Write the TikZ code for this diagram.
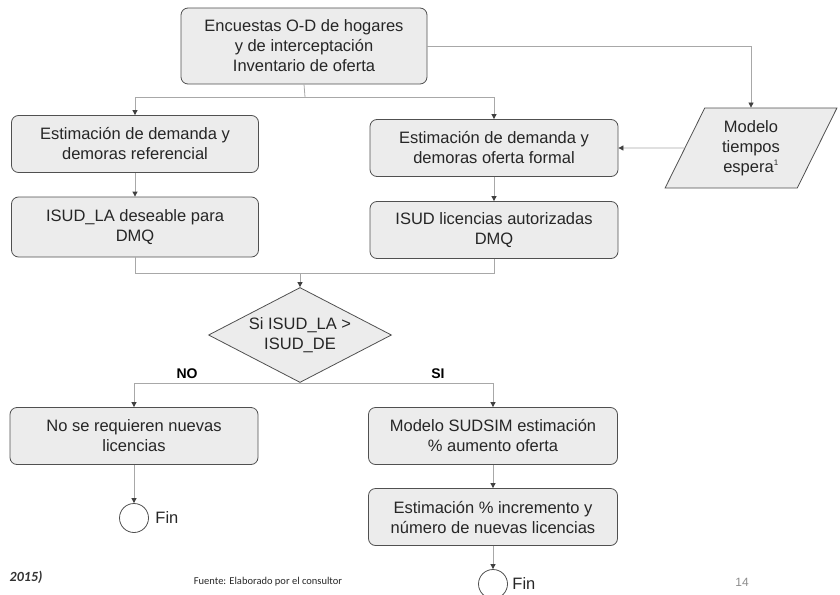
\documentclass[tikz,border=0pt]{standalone}
\usepackage{fontspec}
\setmainfont{Liberation Sans}
\newfontfamily\calibrifont{Carlito}
\usepackage{xcolor}
\usepackage{tikz}
\usetikzlibrary{positioning,arrows.meta,shapes.geometric,calc}

\definecolor{boxfill}{HTML}{ECECEC}
\definecolor{boxline}{HTML}{505050}
\definecolor{connline}{HTML}{A8A8A8}

\begin{document}
\begin{tikzpicture}[x=1pt, y=-1pt,
    proc/.style={draw=boxline, rounded corners=7pt, fill=boxfill, thick,
                 minimum width=247pt, minimum height=57pt, align=center,
                 font=\fontsize{16.5}{20}\selectfont, text=black!85},
    datain/.style={draw=boxline, fill=boxfill, thick, trapezium,
                   trapezium left angle=66, trapezium right angle=114,
                   trapezium stretches=true, minimum width=172pt, minimum height=80pt,
                   align=center, font=\fontsize{16.5}{20}\selectfont, text=black!85},
    decision/.style={draw=boxline, fill=boxfill, thick, diamond, aspect=1.9,
                     minimum width=183pt, minimum height=95pt, inner sep=0pt,
                     align=center, font=\fontsize{16.5}{20}\selectfont, text=black!85},
    term/.style={draw=boxline, thick, circle, fill=white, minimum size=29pt, inner sep=0pt},
    conn/.style={connline, thick},
    arr/.style={connline, thick, -{Triangle[width=5pt,length=5pt,color=black!75]}},
    lbl/.style={font=\fontsize{14}{16}\selectfont\bfseries, text=black}]
  \useasboundingbox (0,0) rectangle (840,594);
  % upper part
  \node[proc, minimum width=246pt, minimum height=76pt] (enc) at (304,46)
       {Encuestas O-D de hogares\\y de interceptaci\'on\\Inventario de oferta};
  \node[proc] (est1) at (135,144) {Estimaci\'on de demanda y\\demoras referencial};
  \node[proc, minimum height=60pt] (isud1) at (135,227) {ISUD\_LA deseable para\\DMQ};
  \node[proc, minimum width=248pt] (est2) at (494,148) {Estimaci\'on de demanda y\\demoras oferta formal};
  \node[proc, minimum width=248pt] (isud2) at (494,230) {ISUD licencias autorizadas\\DMQ};
  \node[datain] (mod) at (751,148) {Modelo\\tiempos\\espera\textsuperscript{\fontsize{8}{8}\selectfont 1}};
  % decision
  \node[decision] (dec) at (300,335) {Si ISUD\_LA >\\ISUD\_DE};
  % lower part
  \node[proc, minimum width=248pt] (nolic) at (134,436) {No se requieren nuevas\\licencias};
  \node[proc, minimum width=249pt] (sud) at (493,436) {Modelo SUDSIM estimaci\'on\\\% aumento oferta};
  \node[proc, minimum width=249pt] (inc) at (493,517) {Estimaci\'on \% incremento y\\n\'umero de nuevas licencias};
  \node[term] (fin1) at (134,518) {};
  \node[term] (fin2) at (493,584) {};
  \node[font=\fontsize{16.5}{20}\selectfont, text=black!85, right=3pt of fin1] (fint1) {Fin};
  \node[font=\fontsize{16.5}{20}\selectfont, text=black!85, right=1pt of fin2] (fint2) {Fin};
  % connectors
  \coordinate (split) at (305,97);
  \coordinate (join) at (300,273);
  \draw[conn] (enc.south) -- (split);
  \draw[arr] (split) -| (est1.north);
  \draw[arr] (split) -| (est2.north);
  \draw[arr] (enc.east) -| (mod.north);
  \draw[arr] (mod.west) -- (est2.east);
  \draw[arr] (est1) -- (isud1);
  \draw[arr] (est2) -- (isud2);
  \draw[conn] (isud1.south) |- (join);
  \draw[conn] (isud2.south) |- (join);
  \draw[arr] (join) -- (dec.north);
  \draw[arr] (dec.south) -| (nolic.north);
  \draw[arr] (dec.south) -| (sud.north);
  \draw[arr] (nolic) -- (fin1);
  \draw[arr] (sud) -- (inc);
  \draw[arr] (inc) -- (fin2);
  % branch labels
  \node[lbl] (no) at (187,374) {NO};
  \node[lbl] (si) at (438,374) {SI};
  % page texts
  \node[font=\calibrifont\fontsize{14}{16}\selectfont\bfseries\itshape, text=black!80, anchor=east] (yr) at (46,577) {2015)};
  \node[font=\calibrifont\fontsize{10.5}{12}\selectfont, text=black!85] (src) at (268,582) {Fuente: Elaborado por el consultor};
  \node[font=\fontsize{12}{14}\selectfont, text=black!45] (pg) at (742,582) {14};
\end{tikzpicture}
\end{document}
